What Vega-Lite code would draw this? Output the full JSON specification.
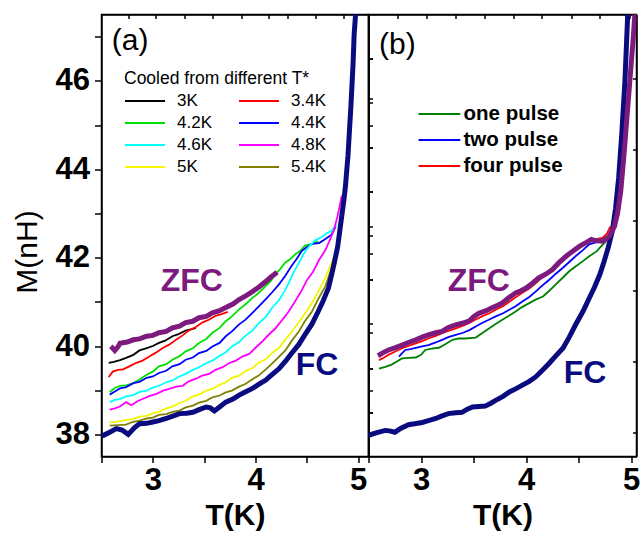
{
  "$schema": "https://vega.github.io/schema/vega-lite/v6.json",
  "padding": {"left": 11.5, "top": 12.5, "right": 5, "bottom": 5},
  "spacing": 0,
  "bounds": "flush",
  "config": {
    "font": "Liberation Sans",
    "view": {"stroke": "black", "strokeWidth": 1.5},
    "axis": {"grid": false, "domainColor": "black", "domainWidth": 1.5, "tickColor": "black", "tickWidth": 1.5, "labelColor": "black", "titleColor": "black", "labelFont": "Liberation Sans", "titleFont": "Liberation Sans", "labelFontWeight": "bold", "labelFontSize": 31, "titleFontSize": 30, "titleFontWeight": "bold"}
  },
  "datasets": {
    "a": [
      {"curve":"3K","T":2.57,"M":39.62},{"curve":"3K","T":2.62,"M":39.64},{"curve":"3K","T":2.68,"M":39.68},{"curve":"3K","T":2.74,"M":39.73},{"curve":"3K","T":2.81,"M":39.8},{"curve":"3K","T":2.87,"M":39.9},{"curve":"3K","T":2.94,"M":39.95},{"curve":"3K","T":3.0,"M":40.0},{"curve":"3K","T":3.06,"M":40.07},{"curve":"3K","T":3.12,"M":40.12},{"curve":"3K","T":3.19,"M":40.22},{"curve":"3K","T":3.25,"M":40.27},{"curve":"3K","T":3.32,"M":40.35},{"curve":"3K","T":3.38,"M":40.38},{"curve":"3K","T":3.42,"M":40.41},
      {"curve":"3.4K","T":2.57,"M":39.3},{"curve":"3.4K","T":2.61,"M":39.42},{"curve":"3.4K","T":2.66,"M":39.46},{"curve":"3.4K","T":2.71,"M":39.47},{"curve":"3.4K","T":2.78,"M":39.55},{"curve":"3.4K","T":2.84,"M":39.62},{"curve":"3.4K","T":2.9,"M":39.67},{"curve":"3.4K","T":2.97,"M":39.77},{"curve":"3.4K","T":3.03,"M":39.85},{"curve":"3.4K","T":3.1,"M":39.96},{"curve":"3.4K","T":3.16,"M":40.03},{"curve":"3.4K","T":3.23,"M":40.15},{"curve":"3.4K","T":3.29,"M":40.24},{"curve":"3.4K","T":3.35,"M":40.35},{"curve":"3.4K","T":3.42,"M":40.43},{"curve":"3.4K","T":3.48,"M":40.53},{"curve":"3.4K","T":3.55,"M":40.6},{"curve":"3.4K","T":3.61,"M":40.68},{"curve":"3.4K","T":3.67,"M":40.72},{"curve":"3.4K","T":3.73,"M":40.77},
      {"curve":"4.2K","T":2.58,"M":38.96},{"curve":"4.2K","T":2.63,"M":39.05},{"curve":"4.2K","T":2.68,"M":39.1},{"curve":"4.2K","T":2.74,"M":39.11},{"curve":"4.2K","T":2.81,"M":39.16},{"curve":"4.2K","T":2.87,"M":39.24},{"curve":"4.2K","T":2.94,"M":39.35},{"curve":"4.2K","T":3.0,"M":39.42},{"curve":"4.2K","T":3.06,"M":39.54},{"curve":"4.2K","T":3.13,"M":39.59},{"curve":"4.2K","T":3.19,"M":39.69},{"curve":"4.2K","T":3.26,"M":39.77},{"curve":"4.2K","T":3.32,"M":39.88},{"curve":"4.2K","T":3.39,"M":39.95},{"curve":"4.2K","T":3.45,"M":40.07},{"curve":"4.2K","T":3.52,"M":40.16},{"curve":"4.2K","T":3.58,"M":40.3},{"curve":"4.2K","T":3.65,"M":40.41},{"curve":"4.2K","T":3.71,"M":40.56},{"curve":"4.2K","T":3.77,"M":40.67},{"curve":"4.2K","T":3.84,"M":40.83},{"curve":"4.2K","T":3.9,"M":40.94},{"curve":"4.2K","T":3.97,"M":41.09},{"curve":"4.2K","T":4.03,"M":41.2},{"curve":"4.2K","T":4.1,"M":41.36},{"curve":"4.2K","T":4.15,"M":41.47},{"curve":"4.2K","T":4.19,"M":41.62},{"curve":"4.2K","T":4.24,"M":41.74},{"curve":"4.2K","T":4.29,"M":41.89},{"curve":"4.2K","T":4.34,"M":41.97},{"curve":"4.2K","T":4.39,"M":42.08},{"curve":"4.2K","T":4.44,"M":42.16},{"curve":"4.2K","T":4.48,"M":42.27},{"curve":"4.2K","T":4.55,"M":42.31},{"curve":"4.2K","T":4.61,"M":42.37},
      {"curve":"4.4K","T":2.58,"M":38.9},{"curve":"4.4K","T":2.63,"M":38.97},{"curve":"4.4K","T":2.68,"M":39.04},{"curve":"4.4K","T":2.74,"M":39.07},{"curve":"4.4K","T":2.81,"M":39.16},{"curve":"4.4K","T":2.87,"M":39.19},{"curve":"4.4K","T":2.94,"M":39.28},{"curve":"4.4K","T":3.0,"M":39.31},{"curve":"4.4K","T":3.06,"M":39.39},{"curve":"4.4K","T":3.13,"M":39.44},{"curve":"4.4K","T":3.19,"M":39.54},{"curve":"4.4K","T":3.26,"M":39.59},{"curve":"4.4K","T":3.32,"M":39.69},{"curve":"4.4K","T":3.39,"M":39.74},{"curve":"4.4K","T":3.45,"M":39.84},{"curve":"4.4K","T":3.52,"M":39.89},{"curve":"4.4K","T":3.58,"M":39.99},{"curve":"4.4K","T":3.65,"M":40.07},{"curve":"4.4K","T":3.71,"M":40.22},{"curve":"4.4K","T":3.77,"M":40.33},{"curve":"4.4K","T":3.84,"M":40.49},{"curve":"4.4K","T":3.9,"M":40.59},{"curve":"4.4K","T":3.97,"M":40.75},{"curve":"4.4K","T":4.03,"M":40.89},{"curve":"4.4K","T":4.1,"M":41.06},{"curve":"4.4K","T":4.16,"M":41.21},{"curve":"4.4K","T":4.23,"M":41.4},{"curve":"4.4K","T":4.29,"M":41.59},{"curve":"4.4K","T":4.35,"M":41.81},{"curve":"4.4K","T":4.4,"M":41.97},{"curve":"4.4K","T":4.45,"M":42.15},{"curve":"4.4K","T":4.5,"M":42.24},{"curve":"4.4K","T":4.55,"M":42.31},{"curve":"4.4K","T":4.62,"M":42.33},{"curve":"4.4K","T":4.68,"M":42.42},{"curve":"4.4K","T":4.74,"M":42.52},{"curve":"4.4K","T":4.78,"M":42.7},
      {"curve":"4.6K","T":2.58,"M":38.73},{"curve":"4.6K","T":2.63,"M":38.78},{"curve":"4.6K","T":2.68,"M":38.8},{"curve":"4.6K","T":2.74,"M":38.86},{"curve":"4.6K","T":2.81,"M":38.89},{"curve":"4.6K","T":2.87,"M":38.96},{"curve":"4.6K","T":2.94,"M":38.99},{"curve":"4.6K","T":3.0,"M":39.06},{"curve":"4.6K","T":3.06,"M":39.1},{"curve":"4.6K","T":3.13,"M":39.18},{"curve":"4.6K","T":3.19,"M":39.22},{"curve":"4.6K","T":3.26,"M":39.31},{"curve":"4.6K","T":3.32,"M":39.37},{"curve":"4.6K","T":3.39,"M":39.46},{"curve":"4.6K","T":3.45,"M":39.52},{"curve":"4.6K","T":3.52,"M":39.61},{"curve":"4.6K","T":3.58,"M":39.67},{"curve":"4.6K","T":3.65,"M":39.78},{"curve":"4.6K","T":3.71,"M":39.86},{"curve":"4.6K","T":3.77,"M":39.99},{"curve":"4.6K","T":3.84,"M":40.09},{"curve":"4.6K","T":3.9,"M":40.23},{"curve":"4.6K","T":3.97,"M":40.35},{"curve":"4.6K","T":4.03,"M":40.51},{"curve":"4.6K","T":4.1,"M":40.66},{"curve":"4.6K","T":4.16,"M":40.86},{"curve":"4.6K","T":4.23,"M":41.04},{"curve":"4.6K","T":4.28,"M":41.23},{"curve":"4.6K","T":4.32,"M":41.41},{"curve":"4.6K","T":4.37,"M":41.66},{"curve":"4.6K","T":4.42,"M":41.87},{"curve":"4.6K","T":4.47,"M":42.09},{"curve":"4.6K","T":4.52,"M":42.25},{"curve":"4.6K","T":4.58,"M":42.39},{"curve":"4.6K","T":4.65,"M":42.47},{"curve":"4.6K","T":4.7,"M":42.56},{"curve":"4.6K","T":4.74,"M":42.6},{"curve":"4.6K","T":4.79,"M":42.75},
      {"curve":"4.8K","T":2.58,"M":38.56},{"curve":"4.8K","T":2.63,"M":38.59},{"curve":"4.8K","T":2.68,"M":38.63},{"curve":"4.8K","T":2.74,"M":38.73},{"curve":"4.8K","T":2.79,"M":38.66},{"curve":"4.8K","T":2.85,"M":38.75},{"curve":"4.8K","T":2.9,"M":38.8},{"curve":"4.8K","T":2.97,"M":38.87},{"curve":"4.8K","T":3.03,"M":38.91},{"curve":"4.8K","T":3.1,"M":38.99},{"curve":"4.8K","T":3.16,"M":39.03},{"curve":"4.8K","T":3.23,"M":39.08},{"curve":"4.8K","T":3.29,"M":39.1},{"curve":"4.8K","T":3.35,"M":39.2},{"curve":"4.8K","T":3.42,"M":39.26},{"curve":"4.8K","T":3.48,"M":39.33},{"curve":"4.8K","T":3.55,"M":39.37},{"curve":"4.8K","T":3.61,"M":39.46},{"curve":"4.8K","T":3.68,"M":39.52},{"curve":"4.8K","T":3.74,"M":39.61},{"curve":"4.8K","T":3.81,"M":39.67},{"curve":"4.8K","T":3.87,"M":39.76},{"curve":"4.8K","T":3.94,"M":39.82},{"curve":"4.8K","T":4.0,"M":39.96},{"curve":"4.8K","T":4.06,"M":40.09},{"curve":"4.8K","T":4.13,"M":40.26},{"curve":"4.8K","T":4.19,"M":40.39},{"curve":"4.8K","T":4.26,"M":40.59},{"curve":"4.8K","T":4.32,"M":40.77},{"curve":"4.8K","T":4.39,"M":41.03},{"curve":"4.8K","T":4.45,"M":41.26},{"curve":"4.8K","T":4.5,"M":41.49},{"curve":"4.8K","T":4.56,"M":41.68},{"curve":"4.8K","T":4.62,"M":41.95},{"curve":"4.8K","T":4.68,"M":42.17},{"curve":"4.8K","T":4.72,"M":42.38},{"curve":"4.8K","T":4.76,"M":42.6},{"curve":"4.8K","T":4.8,"M":42.95},{"curve":"4.8K","T":4.84,"M":43.4},
      {"curve":"5K","T":2.58,"M":38.27},{"curve":"5K","T":2.66,"M":38.29},{"curve":"5K","T":2.74,"M":38.33},{"curve":"5K","T":2.8,"M":38.34},{"curve":"5K","T":2.87,"M":38.4},{"curve":"5K","T":2.94,"M":38.42},{"curve":"5K","T":3.0,"M":38.48},{"curve":"5K","T":3.06,"M":38.51},{"curve":"5K","T":3.13,"M":38.59},{"curve":"5K","T":3.19,"M":38.63},{"curve":"5K","T":3.26,"M":38.71},{"curve":"5K","T":3.32,"M":38.76},{"curve":"5K","T":3.39,"M":38.86},{"curve":"5K","T":3.45,"M":38.9},{"curve":"5K","T":3.52,"M":38.99},{"curve":"5K","T":3.58,"M":39.03},{"curve":"5K","T":3.65,"M":39.12},{"curve":"5K","T":3.71,"M":39.18},{"curve":"5K","T":3.77,"M":39.28},{"curve":"5K","T":3.84,"M":39.33},{"curve":"5K","T":3.9,"M":39.43},{"curve":"5K","T":3.97,"M":39.5},{"curve":"5K","T":4.03,"M":39.62},{"curve":"5K","T":4.1,"M":39.7},{"curve":"5K","T":4.16,"M":39.84},{"curve":"5K","T":4.23,"M":39.96},{"curve":"5K","T":4.29,"M":40.15},{"curve":"5K","T":4.35,"M":40.31},{"curve":"5K","T":4.42,"M":40.53},{"curve":"5K","T":4.48,"M":40.73},{"curve":"5K","T":4.55,"M":40.98},{"curve":"5K","T":4.61,"M":41.23},{"curve":"5K","T":4.68,"M":41.54},{"curve":"5K","T":4.72,"M":41.76},{"curve":"5K","T":4.76,"M":41.99},{"curve":"5K","T":4.79,"M":42.2},{"curve":"5K","T":4.81,"M":42.45},{"curve":"5K","T":4.83,"M":42.8},
      {"curve":"5.4K","T":2.58,"M":38.2},{"curve":"5.4K","T":2.66,"M":38.21},{"curve":"5.4K","T":2.74,"M":38.22},{"curve":"5.4K","T":2.8,"M":38.28},{"curve":"5.4K","T":2.87,"M":38.31},{"curve":"5.4K","T":2.94,"M":38.36},{"curve":"5.4K","T":3.0,"M":38.38},{"curve":"5.4K","T":3.06,"M":38.44},{"curve":"5.4K","T":3.13,"M":38.46},{"curve":"5.4K","T":3.19,"M":38.51},{"curve":"5.4K","T":3.26,"M":38.54},{"curve":"5.4K","T":3.32,"M":38.61},{"curve":"5.4K","T":3.39,"M":38.65},{"curve":"5.4K","T":3.45,"M":38.72},{"curve":"5.4K","T":3.52,"M":38.76},{"curve":"5.4K","T":3.58,"M":38.84},{"curve":"5.4K","T":3.65,"M":38.88},{"curve":"5.4K","T":3.71,"M":38.95},{"curve":"5.4K","T":3.77,"M":38.99},{"curve":"5.4K","T":3.84,"M":39.08},{"curve":"5.4K","T":3.9,"M":39.14},{"curve":"5.4K","T":3.97,"M":39.25},{"curve":"5.4K","T":4.03,"M":39.33},{"curve":"5.4K","T":4.1,"M":39.47},{"curve":"5.4K","T":4.16,"M":39.6},{"curve":"5.4K","T":4.23,"M":39.76},{"curve":"5.4K","T":4.29,"M":39.9},{"curve":"5.4K","T":4.35,"M":40.11},{"curve":"5.4K","T":4.42,"M":40.32},{"curve":"5.4K","T":4.48,"M":40.56},{"curve":"5.4K","T":4.55,"M":40.78},{"curve":"5.4K","T":4.61,"M":41.06},{"curve":"5.4K","T":4.68,"M":41.35},{"curve":"5.4K","T":4.72,"M":41.62},{"curve":"5.4K","T":4.77,"M":41.92},{"curve":"5.4K","T":4.8,"M":42.2},{"curve":"5.4K","T":4.82,"M":42.45},{"curve":"5.4K","T":4.84,"M":42.8},
      {"curve":"FC","T":2.5,"M":37.97},{"curve":"FC","T":2.52,"M":37.98},{"curve":"FC","T":2.58,"M":38.05},{"curve":"FC","T":2.645,"M":38.13},{"curve":"FC","T":2.7,"M":38.1},{"curve":"FC","T":2.76,"M":38.0},{"curve":"FC","T":2.82,"M":38.15},{"curve":"FC","T":2.87,"M":38.24},{"curve":"FC","T":2.94,"M":38.25},{"curve":"FC","T":3.0,"M":38.28},{"curve":"FC","T":3.06,"M":38.31},{"curve":"FC","T":3.13,"M":38.36},{"curve":"FC","T":3.2,"M":38.42},{"curve":"FC","T":3.26,"M":38.47},{"curve":"FC","T":3.33,"M":38.48},{"curve":"FC","T":3.39,"M":38.5},{"curve":"FC","T":3.45,"M":38.56},{"curve":"FC","T":3.52,"M":38.62},{"curve":"FC","T":3.56,"M":38.6},{"curve":"FC","T":3.6,"M":38.53},{"curve":"FC","T":3.65,"M":38.62},{"curve":"FC","T":3.71,"M":38.73},{"curve":"FC","T":3.78,"M":38.8},{"curve":"FC","T":3.84,"M":38.89},{"curve":"FC","T":3.9,"M":38.96},{"curve":"FC","T":3.97,"M":39.04},{"curve":"FC","T":4.03,"M":39.13},{"curve":"FC","T":4.1,"M":39.23},{"curve":"FC","T":4.16,"M":39.35},{"curve":"FC","T":4.23,"M":39.49},{"curve":"FC","T":4.29,"M":39.65},{"curve":"FC","T":4.35,"M":39.83},{"curve":"FC","T":4.42,"M":40.03},{"curve":"FC","T":4.48,"M":40.25},{"curve":"FC","T":4.55,"M":40.5},{"curve":"FC","T":4.61,"M":40.78},{"curve":"FC","T":4.66,"M":41.03},{"curve":"FC","T":4.71,"M":41.31},{"curve":"FC","T":4.74,"M":41.6},{"curve":"FC","T":4.77,"M":41.92},{"curve":"FC","T":4.8,"M":42.25},{"curve":"FC","T":4.82,"M":42.6},{"curve":"FC","T":4.84,"M":42.95},{"curve":"FC","T":4.86,"M":43.3},{"curve":"FC","T":4.875,"M":43.6},{"curve":"FC","T":4.9,"M":44.3},{"curve":"FC","T":4.93,"M":45.48},{"curve":"FC","T":4.95,"M":46.4},{"curve":"FC","T":4.96,"M":47.04},{"curve":"FC","T":4.98,"M":47.7},
      {"curve":"ZFC","T":2.59,"M":39.99},{"curve":"ZFC","T":2.61,"M":39.95},{"curve":"ZFC","T":2.63,"M":39.9},{"curve":"ZFC","T":2.66,"M":39.98},{"curve":"ZFC","T":2.68,"M":40.06},{"curve":"ZFC","T":2.75,"M":40.09},{"curve":"ZFC","T":2.81,"M":40.14},{"curve":"ZFC","T":2.87,"M":40.16},{"curve":"ZFC","T":2.94,"M":40.22},{"curve":"ZFC","T":3.0,"M":40.24},{"curve":"ZFC","T":3.06,"M":40.3},{"curve":"ZFC","T":3.13,"M":40.33},{"curve":"ZFC","T":3.19,"M":40.41},{"curve":"ZFC","T":3.26,"M":40.45},{"curve":"ZFC","T":3.32,"M":40.53},{"curve":"ZFC","T":3.39,"M":40.56},{"curve":"ZFC","T":3.45,"M":40.64},{"curve":"ZFC","T":3.52,"M":40.67},{"curve":"ZFC","T":3.58,"M":40.75},{"curve":"ZFC","T":3.65,"M":40.8},{"curve":"ZFC","T":3.71,"M":40.87},{"curve":"ZFC","T":3.78,"M":40.95},{"curve":"ZFC","T":3.84,"M":41.05},{"curve":"ZFC","T":3.9,"M":41.13},{"curve":"ZFC","T":3.97,"M":41.23},{"curve":"ZFC","T":4.03,"M":41.33},{"curve":"ZFC","T":4.1,"M":41.46},{"curve":"ZFC","T":4.16,"M":41.58},{"curve":"ZFC","T":4.21,"M":41.67}
    ],
    "b": [
      {"curve":"one pulse","T":2.6,"M":39.49},{"curve":"one pulse","T":2.66,"M":39.53},{"curve":"one pulse","T":2.72,"M":39.58},{"curve":"one pulse","T":2.77,"M":39.65},{"curve":"one pulse","T":2.82,"M":39.72},{"curve":"one pulse","T":2.88,"M":39.73},{"curve":"one pulse","T":2.95,"M":39.74},{"curve":"one pulse","T":3.0,"M":39.8},{"curve":"one pulse","T":3.04,"M":39.91},{"curve":"one pulse","T":3.1,"M":39.94},{"curve":"one pulse","T":3.17,"M":39.96},{"curve":"one pulse","T":3.23,"M":40.04},{"curve":"one pulse","T":3.3,"M":40.14},{"curve":"one pulse","T":3.36,"M":40.17},{"curve":"one pulse","T":3.42,"M":40.17},{"curve":"one pulse","T":3.52,"M":40.19},{"curve":"one pulse","T":3.58,"M":40.29},{"curve":"one pulse","T":3.65,"M":40.4},{"curve":"one pulse","T":3.71,"M":40.5},{"curve":"one pulse","T":3.77,"M":40.59},{"curve":"one pulse","T":3.84,"M":40.69},{"curve":"one pulse","T":3.9,"M":40.78},{"curve":"one pulse","T":3.96,"M":40.88},{"curve":"one pulse","T":4.03,"M":40.97},{"curve":"one pulse","T":4.09,"M":41.05},{"curve":"one pulse","T":4.16,"M":41.12},{"curve":"one pulse","T":4.22,"M":41.25},{"curve":"one pulse","T":4.28,"M":41.39},{"curve":"one pulse","T":4.35,"M":41.55},{"curve":"one pulse","T":4.41,"M":41.69},{"curve":"one pulse","T":4.47,"M":41.8},{"curve":"one pulse","T":4.54,"M":41.92},{"curve":"one pulse","T":4.6,"M":42.03},{"curve":"one pulse","T":4.67,"M":42.14},{"curve":"one pulse","T":4.72,"M":42.27},{"curve":"one pulse","T":4.76,"M":42.37},{"curve":"one pulse","T":4.82,"M":42.6},
      {"curve":"two pulse","T":2.79,"M":39.76},{"curve":"two pulse","T":2.82,"M":39.84},{"curve":"two pulse","T":2.85,"M":39.91},{"curve":"two pulse","T":2.9,"M":39.93},{"curve":"two pulse","T":2.95,"M":39.96},{"curve":"two pulse","T":3.01,"M":39.99},{"curve":"two pulse","T":3.07,"M":40.02},{"curve":"two pulse","T":3.14,"M":40.08},{"curve":"two pulse","T":3.2,"M":40.14},{"curve":"two pulse","T":3.26,"M":40.2},{"curve":"two pulse","T":3.33,"M":40.25},{"curve":"two pulse","T":3.4,"M":40.3},{"curve":"two pulse","T":3.46,"M":40.36},{"curve":"two pulse","T":3.52,"M":40.44},{"curve":"two pulse","T":3.58,"M":40.52},{"curve":"two pulse","T":3.65,"M":40.6},{"curve":"two pulse","T":3.71,"M":40.67},{"curve":"two pulse","T":3.78,"M":40.74},{"curve":"two pulse","T":3.84,"M":40.82},{"curve":"two pulse","T":3.9,"M":40.9},{"curve":"two pulse","T":3.96,"M":41.0},{"curve":"two pulse","T":4.03,"M":41.11},{"curve":"two pulse","T":4.09,"M":41.23},{"curve":"two pulse","T":4.15,"M":41.36},{"curve":"two pulse","T":4.22,"M":41.5},{"curve":"two pulse","T":4.28,"M":41.63},{"curve":"two pulse","T":4.35,"M":41.77},{"curve":"two pulse","T":4.41,"M":41.9},{"curve":"two pulse","T":4.47,"M":42.03},{"curve":"two pulse","T":4.54,"M":42.17},{"curve":"two pulse","T":4.6,"M":42.3},{"curve":"two pulse","T":4.67,"M":42.35},{"curve":"two pulse","T":4.73,"M":42.37},{"curve":"two pulse","T":4.77,"M":42.45},{"curve":"two pulse","T":4.8,"M":42.6},
      {"curve":"four pulse","T":2.6,"M":39.68},{"curve":"four pulse","T":2.65,"M":39.74},{"curve":"four pulse","T":2.69,"M":39.8},{"curve":"four pulse","T":2.75,"M":39.87},{"curve":"four pulse","T":2.82,"M":39.95},{"curve":"four pulse","T":2.88,"M":40.0},{"curve":"four pulse","T":2.95,"M":40.06},{"curve":"four pulse","T":3.01,"M":40.11},{"curve":"four pulse","T":3.07,"M":40.17},{"curve":"four pulse","T":3.14,"M":40.23},{"curve":"four pulse","T":3.2,"M":40.29},{"curve":"four pulse","T":3.26,"M":40.34},{"curve":"four pulse","T":3.33,"M":40.4},{"curve":"four pulse","T":3.4,"M":40.46},{"curve":"four pulse","T":3.46,"M":40.52},{"curve":"four pulse","T":3.52,"M":40.6},{"curve":"four pulse","T":3.58,"M":40.67},{"curve":"four pulse","T":3.65,"M":40.74},{"curve":"four pulse","T":3.71,"M":40.82},{"curve":"four pulse","T":3.78,"M":40.9},{"curve":"four pulse","T":3.84,"M":41.0},{"curve":"four pulse","T":3.9,"M":41.1},{"curve":"four pulse","T":3.96,"M":41.2},{"curve":"four pulse","T":4.03,"M":41.3},{"curve":"four pulse","T":4.09,"M":41.42},{"curve":"four pulse","T":4.15,"M":41.55},{"curve":"four pulse","T":4.22,"M":41.69},{"curve":"four pulse","T":4.28,"M":41.82},{"curve":"four pulse","T":4.35,"M":41.95},{"curve":"four pulse","T":4.41,"M":42.07},{"curve":"four pulse","T":4.47,"M":42.18},{"curve":"four pulse","T":4.54,"M":42.28},{"curve":"four pulse","T":4.6,"M":42.37},{"curve":"four pulse","T":4.67,"M":42.42},{"curve":"four pulse","T":4.73,"M":42.45},{"curve":"four pulse","T":4.77,"M":42.55},{"curve":"four pulse","T":4.8,"M":42.7},
      {"curve":"FC","T":2.5,"M":37.98},{"curve":"FC","T":2.58,"M":38.04},{"curve":"FC","T":2.66,"M":38.09},{"curve":"FC","T":2.7,"M":38.08},{"curve":"FC","T":2.75,"M":38.05},{"curve":"FC","T":2.81,"M":38.14},{"curve":"FC","T":2.88,"M":38.22},{"curve":"FC","T":2.94,"M":38.24},{"curve":"FC","T":3.01,"M":38.27},{"curve":"FC","T":3.07,"M":38.31},{"curve":"FC","T":3.14,"M":38.36},{"curve":"FC","T":3.2,"M":38.42},{"curve":"FC","T":3.26,"M":38.47},{"curve":"FC","T":3.33,"M":38.49},{"curve":"FC","T":3.39,"M":38.5},{"curve":"FC","T":3.44,"M":38.57},{"curve":"FC","T":3.49,"M":38.62},{"curve":"FC","T":3.55,"M":38.63},{"curve":"FC","T":3.61,"M":38.64},{"curve":"FC","T":3.66,"M":38.7},{"curve":"FC","T":3.71,"M":38.77},{"curve":"FC","T":3.78,"M":38.86},{"curve":"FC","T":3.84,"M":38.96},{"curve":"FC","T":3.9,"M":39.03},{"curve":"FC","T":3.96,"M":39.11},{"curve":"FC","T":4.03,"M":39.2},{"curve":"FC","T":4.09,"M":39.3},{"curve":"FC","T":4.15,"M":39.44},{"curve":"FC","T":4.22,"M":39.61},{"curve":"FC","T":4.28,"M":39.77},{"curve":"FC","T":4.35,"M":39.95},{"curve":"FC","T":4.41,"M":40.2},{"curve":"FC","T":4.47,"M":40.48},{"curve":"FC","T":4.54,"M":40.78},{"curve":"FC","T":4.6,"M":41.08},{"curve":"FC","T":4.65,"M":41.33},{"curve":"FC","T":4.7,"M":41.61},{"curve":"FC","T":4.74,"M":41.9},{"curve":"FC","T":4.78,"M":42.22},{"curve":"FC","T":4.82,"M":42.6},{"curve":"FC","T":4.85,"M":43.1},{"curve":"FC","T":4.88,"M":43.8},{"curve":"FC","T":4.91,"M":44.8},{"curve":"FC","T":4.94,"M":46.0},{"curve":"FC","T":4.97,"M":47.7},
      {"curve":"ZFC","T":2.59,"M":39.78},{"curve":"ZFC","T":2.64,"M":39.85},{"curve":"ZFC","T":2.69,"M":39.91},{"curve":"ZFC","T":2.75,"M":39.96},{"curve":"ZFC","T":2.82,"M":40.02},{"curve":"ZFC","T":2.88,"M":40.08},{"curve":"ZFC","T":2.95,"M":40.14},{"curve":"ZFC","T":3.01,"M":40.2},{"curve":"ZFC","T":3.07,"M":40.25},{"curve":"ZFC","T":3.14,"M":40.3},{"curve":"ZFC","T":3.2,"M":40.33},{"curve":"ZFC","T":3.26,"M":40.42},{"curve":"ZFC","T":3.33,"M":40.48},{"curve":"ZFC","T":3.4,"M":40.52},{"curve":"ZFC","T":3.46,"M":40.57},{"curve":"ZFC","T":3.5,"M":40.66},{"curve":"ZFC","T":3.55,"M":40.74},{"curve":"ZFC","T":3.62,"M":40.8},{"curve":"ZFC","T":3.68,"M":40.87},{"curve":"ZFC","T":3.73,"M":40.92},{"curve":"ZFC","T":3.77,"M":40.97},{"curve":"ZFC","T":3.84,"M":41.1},{"curve":"ZFC","T":3.9,"M":41.2},{"curve":"ZFC","T":3.95,"M":41.25},{"curve":"ZFC","T":4.0,"M":41.31},{"curve":"ZFC","T":4.06,"M":41.42},{"curve":"ZFC","T":4.12,"M":41.54},{"curve":"ZFC","T":4.19,"M":41.63},{"curve":"ZFC","T":4.25,"M":41.73},{"curve":"ZFC","T":4.31,"M":41.88},{"curve":"ZFC","T":4.38,"M":42.03},{"curve":"ZFC","T":4.44,"M":42.14},{"curve":"ZFC","T":4.51,"M":42.26},{"curve":"ZFC","T":4.57,"M":42.34},{"curve":"ZFC","T":4.62,"M":42.41},{"curve":"ZFC","T":4.67,"M":42.38},{"curve":"ZFC","T":4.73,"M":42.37},{"curve":"ZFC","T":4.79,"M":42.48},{"curve":"ZFC","T":4.84,"M":42.7},{"curve":"ZFC","T":4.87,"M":43.0},{"curve":"ZFC","T":4.9,"M":43.5},{"curve":"ZFC","T":4.93,"M":44.3},{"curve":"ZFC","T":4.96,"M":45.2},{"curve":"ZFC","T":4.99,"M":46.1},{"curve":"ZFC","T":5.02,"M":47.0},{"curve":"ZFC","T":5.04,"M":47.7}
    ]
  },
  "hconcat": [
    {
      "width": 267,
      "height": 442,
      "resolve": {"axis": {"x": "independent", "y": "independent"}},
      "layer": [
        {
          "data": {"name": "a"},
          "transform": [{"filter": "datum.curve != 'FC' && datum.curve != 'ZFC'"}],
          "mark": {"type": "line", "strokeWidth": 1.8, "clip": true},
          "encoding": {
            "x": {"field": "T", "type": "quantitative", "scale": {"domain": [2.5, 5.1], "nice": false, "zero": false},
                  "axis": {"orient": "bottom", "values": [2.5, 3, 3.5, 4, 4.5, 5], "labelExpr": "datum.value % 1 === 0 ? format(datum.value, 'd') : ''", "tickSize": 6, "labelPadding": 3, "title": "T(K)", "titlePadding": 5}},
            "y": {"field": "M", "type": "quantitative", "scale": {"domain": [37.5, 47.5], "nice": false, "zero": false},
                  "axis": {"orient": "left", "values": [38, 39, 40, 41, 42, 43, 44, 45, 46, 47], "labelExpr": "datum.value % 2 === 0 ? format(datum.value, 'd') : ''", "tickSize": 7, "labelPadding": 5, "title": "M(nH)", "titleFontWeight": "normal", "titleFontSize": 30, "titleAngle": 270, "titleX": -74, "titleY": 237, "titleBaseline": "middle", "titleAlign": "center"}},
            "color": {"field": "curve", "type": "nominal",
                      "scale": {"domain": ["3K", "3.4K", "4.2K", "4.4K", "4.6K", "4.8K", "5K", "5.4K"], "range": ["#000000", "#ff0000", "#00e000", "#0000ff", "#00ffff", "#ff00ff", "#f5f500", "#808000"]},
                      "legend": {"title": "Cooled from different T*", "orient": "none", "direction": "horizontal", "legendX": 22.5, "legendY": 55, "columns": 2, "columnPadding": 23, "rowPadding": 3, "symbolType": "M-1,0H3", "symbolSize": 400, "symbolStrokeWidth": 2, "symbolOffset": 0, "labelOffset": 31, "labelFontSize": 17, "labelFont": "Liberation Sans", "labelColor": "black", "titleFont": "Liberation Sans", "titleFontSize": 17.5, "titleFontWeight": "normal", "titleColor": "black", "titlePadding": 3, "titleLimit": 400, "padding": 0}}
          }
        },
        {
          "data": {"name": "a"},
          "transform": [{"filter": "datum.curve == 'FC'"}],
          "mark": {"type": "line", "strokeWidth": 5, "color": "#0b0b80", "clip": true},
          "encoding": {
            "x": {"field": "T", "type": "quantitative", "axis": {"orient": "top", "labels": false, "title": null, "tickSize": -4, "values": [2.76, 3.03, 3.31, 3.58, 3.86, 4.13, 4.31, 4.58, 4.86]}},
            "y": {"field": "M", "type": "quantitative", "axis": {"orient": "right", "labels": false, "title": null, "tickSize": 4, "values": [38.5, 39.5, 40.5, 41.5, 42.5, 43.5, 44.5, 45.5, 46.5]}}
          }
        },
        {
          "data": {"name": "a"},
          "transform": [{"filter": "datum.curve == 'ZFC'"}],
          "mark": {"type": "line", "strokeWidth": 5, "color": "#7d1a7d", "clip": true},
          "encoding": {
            "x": {"field": "T", "type": "quantitative", "axis": null},
            "y": {"field": "M", "type": "quantitative", "axis": null}
          }
        },
        {
          "data": {"values": [{}]},
          "mark": {"type": "text", "text": "ZFC", "fontSize": 32, "fontWeight": "bold", "color": "#7d1a7d"},
          "encoding": {"x": {"datum": 3.38, "axis": null}, "y": {"datum": 41.48, "axis": null}}
        },
        {
          "data": {"values": [{}]},
          "mark": {"type": "text", "text": "FC", "fontSize": 32, "fontWeight": "bold", "color": "#0b0b80"},
          "encoding": {"x": {"datum": 4.6, "axis": null}, "y": {"datum": 39.57, "axis": null}}
        },
        {
          "data": {"values": [{}]},
          "mark": {"type": "text", "text": "(a)", "fontSize": 30, "align": "left", "color": "black"},
          "encoding": {"x": {"datum": 2.6, "axis": null}, "y": {"datum": 46.9, "axis": null}}
        }
      ]
    },
    {
      "width": 268,
      "height": 442,
      "resolve": {"axis": {"x": "independent", "y": "independent"}},
      "layer": [
        {
          "data": {"name": "b"},
          "transform": [{"filter": "datum.curve != 'FC' && datum.curve != 'ZFC'"}],
          "mark": {"type": "line", "strokeWidth": 1.8, "clip": true},
          "encoding": {
            "x": {"field": "T", "type": "quantitative", "scale": {"domain": [2.5, 5.05], "nice": false, "zero": false},
                  "axis": {"orient": "bottom", "values": [2.5, 3, 3.5, 4, 4.5, 5], "labelExpr": "datum.value % 1 === 0 ? format(datum.value, 'd') : ''", "tickSize": 6, "labelPadding": 3, "title": "T(K)", "titlePadding": 5}},
            "y": {"field": "M", "type": "quantitative", "scale": {"domain": [37.5, 47.5], "nice": false, "zero": false},
                  "axis": {"orient": "left", "labels": false, "title": null, "tickSize": -4, "values": [38.5, 39, 39.5, 40.3, 41.5, 42.1, 42.7, 43.5, 44.5, 45, 45.6, 46.5]}},
            "color": {"field": "curve", "type": "nominal",
                      "scale": {"domain": ["one pulse", "two pulse", "four pulse"], "range": ["#008000", "#0000ff", "#ff0000"]},
                      "legend": {"title": null, "orient": "none", "legendX": 49, "legendY": 88, "rowPadding": 4, "symbolType": "M-1,0H3", "symbolSize": 435, "symbolStrokeWidth": 2, "symbolOffset": 0, "labelOffset": 23, "labelFontSize": 20.5, "labelFontWeight": "bold", "labelFont": "Liberation Sans", "labelColor": "black", "padding": 0}}
          }
        },
        {
          "data": {"name": "b"},
          "transform": [{"filter": "datum.curve == 'FC'"}],
          "mark": {"type": "line", "strokeWidth": 5, "color": "#0b0b80", "clip": true},
          "encoding": {
            "x": {"field": "T", "type": "quantitative", "axis": {"orient": "top", "labels": false, "title": null, "tickSize": -4, "values": [2.78, 3.05, 3.33, 3.6, 3.88, 4.15, 4.43, 4.7, 4.98]}},
            "y": {"field": "M", "type": "quantitative", "axis": {"orient": "right", "labels": false, "title": null, "tickSize": -4, "values": [38.05, 39.65, 41.25, 42.85, 44.45, 46.05]}}
          }
        },
        {
          "data": {"name": "b"},
          "transform": [{"filter": "datum.curve == 'ZFC'"}],
          "mark": {"type": "line", "strokeWidth": 5, "color": "#7d1a7d", "clip": true},
          "encoding": {
            "x": {"field": "T", "type": "quantitative", "axis": null},
            "y": {"field": "M", "type": "quantitative", "axis": null}
          }
        },
        {
          "data": {"values": [{}]},
          "mark": {"type": "text", "text": "ZFC", "fontSize": 32, "fontWeight": "bold", "color": "#7d1a7d"},
          "encoding": {"x": {"datum": 3.55, "axis": null}, "y": {"datum": 41.46, "axis": null}}
        },
        {
          "data": {"values": [{}]},
          "mark": {"type": "text", "text": "FC", "fontSize": 32, "fontWeight": "bold", "color": "#0b0b80"},
          "encoding": {"x": {"datum": 4.56, "axis": null}, "y": {"datum": 39.39, "axis": null}}
        },
        {
          "data": {"values": [{}]},
          "mark": {"type": "text", "text": "(b)", "fontSize": 30, "align": "left", "color": "black"},
          "encoding": {"x": {"datum": 2.6, "axis": null}, "y": {"datum": 46.8, "axis": null}}
        }
      ]
    }
  ],
  "resolve": {"scale": {"color": "independent", "x": "independent", "y": "independent"}, "legend": {"color": "independent"}}
}
